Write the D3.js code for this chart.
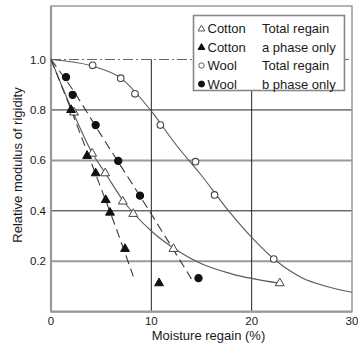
<!DOCTYPE html>
<html>
<head>
<meta charset="utf-8">
<script src="https://cdn.jsdelivr.net/npm/d3@7"></script>
<style>
  body { margin: 0; background: #fff; }
  text { font-family: "Liberation Sans", Arial, sans-serif; fill: #1a1a1a; }
</style>
</head>
<body>
<div class="chart"></div>
<script>
var svgWidth = 358;
var svgHeight = 344;

// measured points: [moisture regain %, relative modulus]
var cottonTotal = [[2.3, 0.79], [4.1, 0.627], [5.4, 0.549], [7.15, 0.437], [8.2, 0.388], [12.2, 0.249], [22.8, 0.113]];
var cottonA = [[2.0, 0.80], [3.6, 0.618], [4.45, 0.549], [5.45, 0.443], [5.88, 0.393], [7.38, 0.249], [10.77, 0.113]];
var woolTotal = [[4.15, 0.977], [6.95, 0.926], [8.37, 0.864], [10.9, 0.74], [14.4, 0.595], [16.3, 0.463], [22.2, 0.209]];
var woolB = [[1.5, 0.93], [2.16, 0.86], [4.45, 0.74], [6.7, 0.598], [8.87, 0.46], [14.7, 0.133]];

// fitted curves as drawn
var cottonTotalFit = [[0, 1], [2.1, 0.8], [4.1, 0.63], [5.4, 0.55], [7.2, 0.44], [10, 0.32], [12.9, 0.235], [15, 0.19], [18, 0.15], [22.8, 0.113]];
var cottonAFit = [[0, 1], [2, 0.8], [4.5, 0.54], [6.5, 0.33], [8.2, 0.14]];
var woolTotalFit = [[0, 1], [4, 0.975], [7, 0.925], [9.9, 0.8], [12.5, 0.66], [15, 0.54], [17.5, 0.41], [20, 0.295], [22.5, 0.2], [25, 0.135], [27.5, 0.1], [30, 0.077]];
var woolBFit = [[0, 1], [2, 0.89], [5, 0.70], [9, 0.45], [14, 0.13]];

var xTicks = [0, 10, 20, 30];
var yTicks = [0.2, 0.4, 0.6, 0.8, 1.0];
var darkGridY = [0.8, 0.4];
var greyGridY = [0.6, 0.2];
var gridX = [10, 20];

var legendRows = [
  { name: "Cotton", note: "Total regain", shape: "tri", filled: false },
  { name: "Cotton", note: "a phase only", shape: "tri", filled: true },
  { name: "Wool", note: "Total regain", shape: "circ", filled: false },
  { name: "Wool", note: "b phase only", shape: "circ", filled: true }
];

var svg = d3.select(".chart")
  .append("svg")
  .attr("width", svgWidth)
  .attr("height", svgHeight);

var x = d3.scaleLinear().domain([0, 30]).range([51, 352]);
var y = d3.scaleLinear().domain([0, 1]).range([311.7, 59.5]);
var plotTop = 6;

// grid lines
svg.selectAll(".gdy").data(darkGridY).enter().append("line")
  .attr("x1", x(0)).attr("x2", x(30))
  .attr("y1", d => y(d)).attr("y2", d => y(d))
  .attr("stroke", "#222").attr("stroke-width", 1);

svg.selectAll(".ggy").data(greyGridY).enter().append("line")
  .attr("x1", x(0)).attr("x2", x(30))
  .attr("y1", d => y(d)).attr("y2", d => y(d))
  .attr("stroke", "#9a9a9a").attr("stroke-width", 2);

svg.selectAll(".gx").data(gridX).enter().append("line")
  .attr("x1", d => x(d)).attr("x2", d => x(d))
  .attr("y1", y(1)).attr("y2", y(0))
  .attr("stroke", "#222").attr("stroke-width", 1);

// dash-dot reference at 1.0
svg.append("line")
  .attr("x1", x(0)).attr("x2", x(30))
  .attr("y1", y(1)).attr("y2", y(1))
  .attr("stroke", "#666").attr("stroke-width", 1.2)
  .attr("stroke-dasharray", "10,3,2,3");

// frame
svg.append("rect")
  .attr("x", x(0)).attr("y", plotTop)
  .attr("width", x(30) - x(0)).attr("height", y(0) - plotTop)
  .attr("fill", "none").attr("stroke", "#9a9a9a").attr("stroke-width", 1.5);
svg.append("line")
  .attr("x1", x(0)).attr("x2", x(0)).attr("y1", plotTop).attr("y2", y(0))
  .attr("stroke", "#999").attr("stroke-width", 2.2);
svg.append("line")
  .attr("x1", x(0)).attr("x2", x(30)).attr("y1", y(0)).attr("y2", y(0))
  .attr("stroke", "#999").attr("stroke-width", 2.2);

// curves
var line = d3.line()
  .x(d => x(d[0]))
  .y(d => y(d[1]))
  .curve(d3.curveMonotoneX);

svg.append("path").datum(woolTotalFit).attr("d", line)
  .attr("fill", "none").attr("stroke", "#5a5a5a").attr("stroke-width", 1.1);
svg.append("path").datum(cottonTotalFit).attr("d", line)
  .attr("fill", "none").attr("stroke", "#5a5a5a").attr("stroke-width", 1.1);
svg.append("path").datum(cottonAFit).attr("d", line)
  .attr("fill", "none").attr("stroke", "#3a3a3a").attr("stroke-width", 1.1)
  .attr("stroke-dasharray", "9,5");
svg.append("path").datum(woolBFit).attr("d", line)
  .attr("fill", "none").attr("stroke", "#3a3a3a").attr("stroke-width", 1.1)
  .attr("stroke-dasharray", "9,5");

// markers
var tri = d3.symbol().type(d3.symbolTriangle).size(34);

function triangles(data, filled) {
  svg.selectAll(null).data(data).enter().append("path")
    .attr("d", tri)
    .attr("transform", d => `translate(${x(d[0])},${y(d[1])})`)
    .attr("fill", filled ? "#111" : "#fff")
    .attr("stroke", filled ? "#111" : "#444")
    .attr("stroke-width", 1);
}

function circles(data, filled) {
  svg.selectAll(null).data(data).enter().append("circle")
    .attr("cx", d => x(d[0]))
    .attr("cy", d => y(d[1]))
    .attr("r", filled ? 3.6 : 3.3)
    .attr("fill", filled ? "#111" : "#fff")
    .attr("stroke", filled ? "#111" : "#444")
    .attr("stroke-width", 1.1);
}

triangles(cottonTotal, false);
triangles(cottonA, true);
circles(woolTotal, false);
circles(woolB, true);

// axes labels
svg.selectAll(".yt").data(yTicks).enter().append("text")
  .attr("x", 46)
  .attr("y", d => y(d))
  .attr("dy", "0.35em")
  .attr("text-anchor", "end")
  .attr("font-size", "11.5px")
  .text(d => d3.format(".1f")(d));

svg.selectAll(".xt").data(xTicks).enter().append("text")
  .attr("x", d => x(d))
  .attr("y", 325)
  .attr("text-anchor", "middle")
  .attr("font-size", "11.5px")
  .text(d => d);

svg.append("text")
  .attr("transform", `translate(22, 165) rotate(-90)`)
  .attr("text-anchor", "middle")
  .attr("font-size", "13px")
  .text("Relative modulus of rigidity");

svg.append("text")
  .attr("x", 208.5)
  .attr("y", 340)
  .attr("text-anchor", "middle")
  .attr("font-size", "13px")
  .text("Moisture regain (%)");

// legend
var lg = svg.append("g");
lg.append("rect")
  .attr("x", 193.5).attr("y", 15.5)
  .attr("width", 151).attr("height", 75)
  .attr("fill", "#fff").attr("stroke", "#888").attr("stroke-width", 1.6);

var rowY = d3.scaleLinear().domain([0, 3]).range([28.5, 84]);

legendRows.forEach(function (r, i) {
  var cy = rowY(i);
  if (r.shape === "tri") {
    lg.append("path")
      .attr("d", d3.symbol().type(d3.symbolTriangle).size(20))
      .attr("transform", `translate(201.5,${cy + 0.5})`)
      .attr("fill", r.filled ? "#111" : "#fff")
      .attr("stroke", r.filled ? "#111" : "#555");
  } else {
    lg.append("circle")
      .attr("cx", 201.5).attr("cy", cy)
      .attr("r", r.filled ? 3 : 2.7)
      .attr("fill", r.filled ? "#111" : "#fff")
      .attr("stroke", r.filled ? "#111" : "#555");
  }
  lg.append("text")
    .attr("x", 207.5).attr("y", cy).attr("dy", "0.36em")
    .attr("font-size", "13px")
    .text(r.name);
  lg.append("text")
    .attr("x", 262).attr("y", cy).attr("dy", "0.36em")
    .attr("font-size", "13px")
    .text(r.note);
});
</script>
</body>
</html>
